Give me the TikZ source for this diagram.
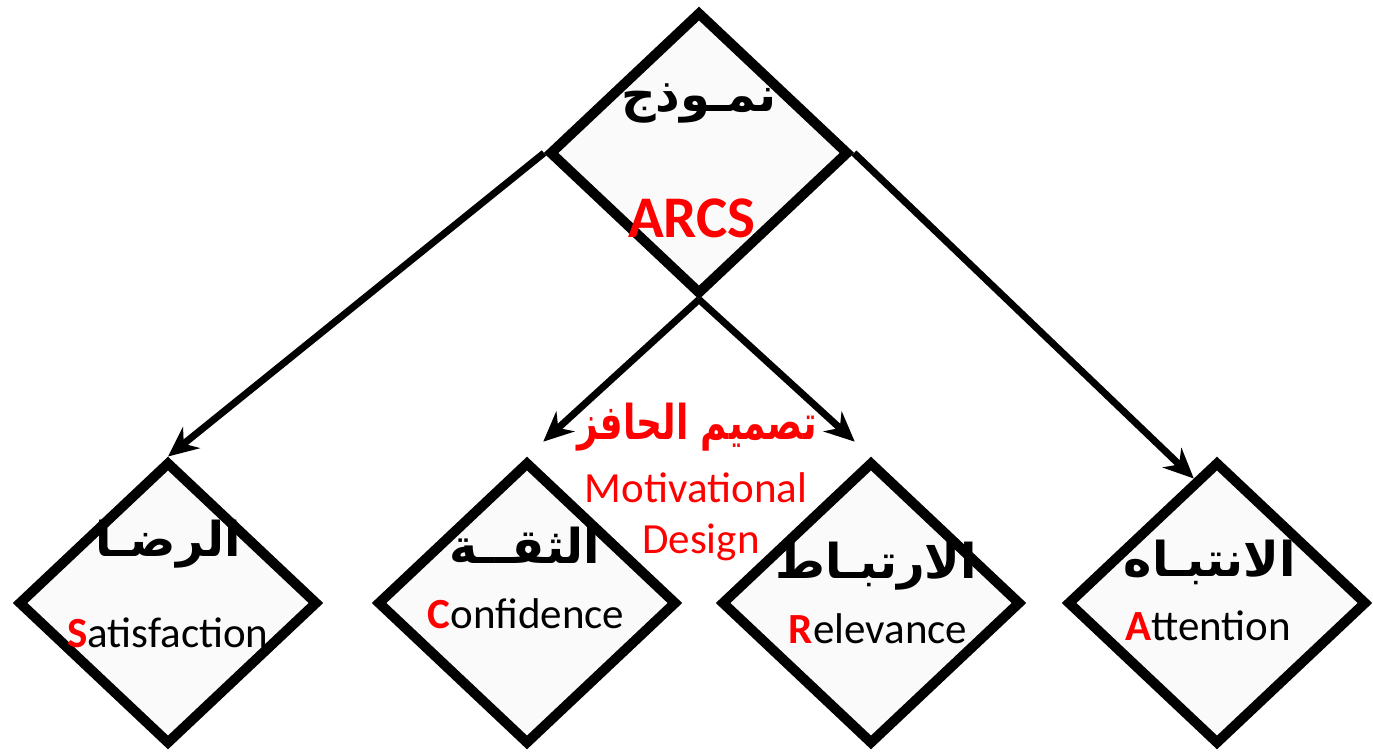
\documentclass[tikz,border=0pt]{standalone}
\usepackage{fontspec}
\setmainfont{Carlito}
\newfontfamily\arabicfont[Script=Arabic]{DejaVu Sans}
\TeXXeTstate=1
\usetikzlibrary{shapes.geometric,arrows.meta,positioning,calc}

\begin{document}
\begin{tikzpicture}[x=1pt,y=-1pt,node distance=350pt]

  % Definitions
  \tikzstyle{Element} = [diamond, minimum width=300pt, minimum height=283pt, inner sep=0pt, draw=black, line width=10pt, fill=black!2]
  \tikzstyle{arrow} = [line width=7pt,-{Stealth[length=30pt,width=27pt]}]
  \tikzstyle{Arabic} = [anchor=base, inner sep=0pt, font=\fontsize{48}{50}\selectfont\arabicfont\bfseries]
  \tikzstyle{Latin} = [anchor=base, inner sep=0pt, font=\fontsize{43}{50}\selectfont]

  \useasboundingbox (0,0) rectangle (1373,753);

  \node (Model) [Element] at (699,153) {};
  \node (Sat) [Element] at (168,603) {};
  \node (Conf) [Element, right of=Sat, xshift=9pt] {};
  \node (Rel) [Element, right of=Conf, xshift=-6pt] {};
  \node (Att) [Element, right of=Rel, xshift=-4pt] {};

  \draw [arrow] (Model.west) -- (Sat.north);
  \draw [arrow] (Model.east) -- ($(Att.north)!0.15!(Att.west)$);
  \draw [arrow, shorten >=22pt] (Model.south) -- (Conf.north);
  \draw [arrow, shorten >=22pt] (Model.south) -- (Rel.north);

  % Labels
  \node (ModelAr) [Arabic] at (699,111) {\beginR نمـوذج\endR};
  \node (ModelEn) [Latin, font=\fontsize{59}{62}\selectfont\bfseries, text=red] at (692,237) {ARCS};

  \node (DesignAr) [Arabic, text=red] at (697,439) {\scalebox{0.75}[1]{\beginR تصميم الحافز\endR}};
  \node (DesignEn) [Latin, text=red] at (696,502) {Motivational};
  \node (DesignEn2) [Latin, text=red] at (701,553) {Design};

  \node (SatAr) [Arabic] at (168,556) {\beginR الرضـا\endR};
  \node (SatEn) [Latin] at (168,647) {\textcolor{red}{\bfseries S}atisfaction};
  \node (ConfAr) [Arabic] at (525,563) {\beginR الثقــة\endR};
  \node (ConfEn) [Latin] at (526,628) {\textcolor{red}{\bfseries C}onfidence};
  \node (RelAr) [Arabic] at (876,578) {\beginR الارتبـاط\endR};
  \node (RelEn) [Latin] at (878,643) {\textcolor{red}{\bfseries R}elevance};
  \node (AttAr) [Arabic] at (1210,576) {\beginR الانتبـاه\endR};
  \node (AttEn) [Latin] at (1208,640) {\textcolor{red}{\bfseries A}ttention};

\end{tikzpicture}
\end{document}
